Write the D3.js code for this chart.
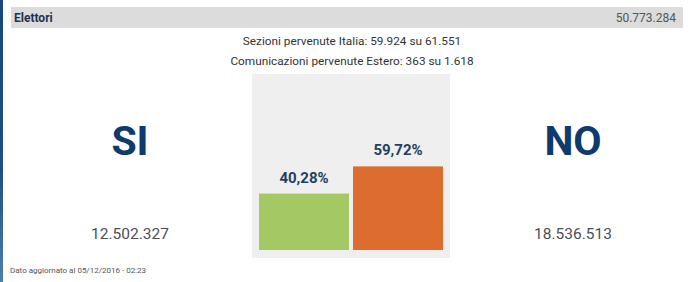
<!DOCTYPE html>
<html lang="it">
  <head>
    <meta charset="UTF-8" />
    <title>Referendum 2016 - Elettori</title>
    <script src="https://d3js.org/d3.v7.min.js"></script>
    <style>
      body {
        margin: 0;
        background: #fff;
      }
      svg text {
        font-family: Roboto, "Open Sans", sans-serif;
      }
      .head {
        font-size: 12px;
      }
      .info {
        font-size: 11.8px;
        fill: #333;
        text-anchor: middle;
      }
      .big {
        font-size: 41px;
        font-weight: bold;
        fill: #0f3a6e;
        text-anchor: middle;
      }
      .votes {
        font-size: 15.5px;
        fill: #4a4f57;
        text-anchor: middle;
      }
      .pct {
        font-size: 15px;
        font-weight: bold;
        fill: #1f3f63;
        text-anchor: middle;
      }
    </style>
  </head>
  <body>
    <svg width="700" height="282"></svg>

    <script>
      const answers = ["SI", "NO"];
      const percents = [40.28, 59.72];
      const votes = ["12.502.327", "18.536.513"];
      const barColors = ["#a4c864", "#dd6d2f"];
      const electors = "50.773.284";
      const infoLines = [
        "Sezioni pervenute Italia: 59.924 su 61.551",
        "Comunicazioni pervenute Estero: 363 su 1.618",
      ];
      const updated = "Dato aggiornato al 05/12/2016 - 02:23";

      const width = 700;
      const height = 282;
      const svg = d3.select("svg");

      // left blue strip
      const grad = svg
        .append("defs")
        .append("linearGradient")
        .attr("id", "strip")
        .attr("x1", 0)
        .attr("y1", 0)
        .attr("x2", 0)
        .attr("y2", 1);
      grad.append("stop").attr("offset", "0%").attr("stop-color", "#1b467c");
      grad.append("stop").attr("offset", "60%").attr("stop-color", "#1d4f86");
      grad.append("stop").attr("offset", "100%").attr("stop-color", "#4f7fa8");
      svg
        .append("rect")
        .attr("x", 0)
        .attr("y", 0)
        .attr("width", 3)
        .attr("height", height)
        .attr("fill", "url(#strip)");

      // header row
      svg
        .append("rect")
        .attr("x", 11)
        .attr("y", 7)
        .attr("width", 672)
        .attr("height", 21)
        .attr("fill", "#dcdcdc");
      svg
        .append("text")
        .attr("class", "head")
        .attr("x", 14)
        .attr("y", 22)
        .attr("font-weight", "bold")
        .attr("fill", "#1f3350")
        .text("Elettori");
      svg
        .append("text")
        .attr("class", "head")
        .attr("x", 676)
        .attr("y", 22)
        .attr("text-anchor", "end")
        .attr("fill", "#555")
        .text(electors);

      svg
        .selectAll(".info")
        .data(infoLines)
        .join("text")
        .attr("class", "info")
        .attr("x", 352)
        .attr("y", (d, i) => 45 + i * 20)
        .text((d) => d);

      // chart panel
      svg
        .append("rect")
        .attr("x", 252)
        .attr("y", 74)
        .attr("width", 198)
        .attr("height", 184)
        .attr("fill", "#efefef");

      const x = d3
        .scaleBand()
        .domain(answers)
        .range([259, 443])
        .paddingInner(0.043);
      const y = d3.scaleLinear().domain([0, 100]).range([250, 110]);

      svg
        .selectAll(".bar")
        .data(answers)
        .join("rect")
        .attr("class", "bar")
        .attr("x", (d) => x(d))
        .attr("y", (d, i) => y(percents[i]))
        .attr("width", x.bandwidth())
        .attr("height", (d, i) => y(0) - y(percents[i]))
        .attr("fill", (d, i) => barColors[i]);

      svg
        .selectAll(".pct")
        .data(answers)
        .join("text")
        .attr("class", "pct")
        .attr("x", (d) => x(d) + x.bandwidth() / 2)
        .attr("y", (d, i) => y(percents[i]) - 11)
        .text((d, i) => percents[i].toFixed(2).replace(".", ",") + "%");

      // big answer labels and vote counts
      const sideX = d3.scalePoint().domain(answers).range([130, 573]);

      svg
        .selectAll(".big")
        .data(answers)
        .join("text")
        .attr("class", "big")
        .attr("x", (d) => sideX(d))
        .attr("y", 155)
        .text((d) => d);

      svg
        .selectAll(".votes")
        .data(answers)
        .join("text")
        .attr("class", "votes")
        .attr("x", (d) => sideX(d))
        .attr("y", 239)
        .text((d, i) => votes[i]);

      svg
        .append("text")
        .attr("x", 10)
        .attr("y", 273)
        .attr("font-size", 8)
        .attr("fill", "#555")
        .text(updated);
    </script>
  </body>
</html>
